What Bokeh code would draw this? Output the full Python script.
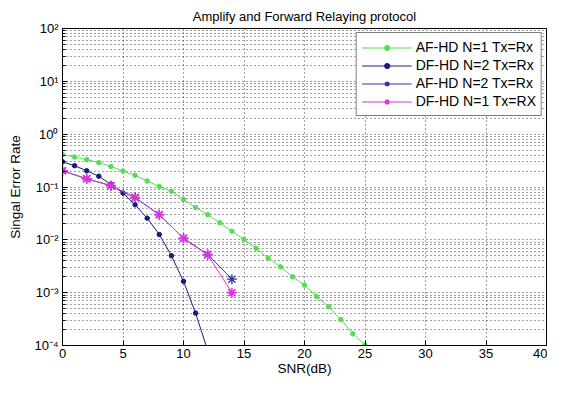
import numpy as np
from bokeh.plotting import figure
from bokeh.models import Range1d, FixedTicker, CustomJSTickFormatter, Legend
from bokeh.embed import file_html
from bokeh.resources import INLINE

# ---- data ----
snr_af1 = list(range(0, 26))
ser_af1 = [0.41, 0.37, 0.33, 0.29, 0.245, 0.20, 0.166, 0.13, 0.102, 0.083,
           0.058, 0.041, 0.030, 0.021, 0.0145, 0.0102, 0.0069, 0.0045, 0.0031,
           0.0020, 0.00139, 0.00085, 0.00054, 0.00031, 0.000166, 0.000102]

snr_df2 = list(range(0, 13))
ser_df2 = [0.30, 0.253, 0.203, 0.16, 0.112, 0.0766, 0.046, 0.0257, 0.0126,
           0.0050, 0.00164, 0.00041, 0.00008]

snr_af2 = [0, 2, 4, 6, 8, 10, 12, 14]
ser_af2 = [0.203, 0.143, 0.106, 0.063, 0.030, 0.0107, 0.0053, 0.0018]

snr_df1 = [0, 2, 4, 6, 8, 10, 12, 14]
ser_df1 = [0.203, 0.143, 0.106, 0.063, 0.030, 0.0107, 0.0052, 0.0010]

labels = ["AF-HD N=1 Tx=Rx", "DF-HD N=2 Tx=Rx", "AF-HD N=2 Tx=Rx", "DF-HD N=1 Tx=RX"]
x_ticks = [0, 5, 10, 15, 20, 25, 30, 35, 40]
y_ticks = [1e-4, 1e-3, 1e-2, 1e-1, 1e0, 1e1, 1e2]

FONT = "Liberation Sans"

p = figure(width=547, height=378, y_axis_type="log",
           x_range=Range1d(0, 40), y_range=Range1d(1e-4, 1e2),
           output_backend="svg", toolbar_location=None,
           title="Amplify and Forward Relaying protocol",
           min_border_left=62, min_border_right=1, min_border_top=28,
           min_border_bottom=30)

p.title.align = "center"
p.title.text_font = FONT
p.title.text_font_size = "13px"
p.title.text_font_style = "normal"
p.title.text_color = "black"
p.title.offset = 0
p.title.standoff = 9

p.outline_line_color = "black"
p.outline_line_width = 1
p.background_fill_color = "white"
p.border_fill_color = "white"

# axes
p.xaxis.ticker = FixedTicker(ticks=x_ticks)
p.yaxis.ticker = FixedTicker(ticks=y_ticks,
                             minor_ticks=[m * 10.0 ** e for e in range(-4, 2) for m in range(2, 10)])
p.yaxis.formatter = CustomJSTickFormatter(code="""
const sup = {'-':'\u207b','0':'\u2070','1':'\u00b9','2':'\u00b2','3':'\u00b3','4':'\u2074',
             '5':'\u2075','6':'\u2076','7':'\u2077','8':'\u2078','9':'\u2079'};
const e = Math.round(Math.log10(tick)).toString();
return '10' + e.split('').map(c => sup[c]).join('');
""")
for ax in (p.xaxis, p.yaxis):
    ax.axis_line_color = "black"
    ax.major_tick_in = 5
    ax.major_tick_out = 0
    ax.minor_tick_in = 3
    ax.minor_tick_out = 0
    ax.major_label_text_font = FONT
    ax.major_label_text_font_size = "13px"
    ax.major_label_text_color = "black"
    ax.axis_label_text_font = FONT
    ax.axis_label_text_font_size = "13.5px"
    ax.axis_label_text_font_style = "normal"
    ax.axis_label_text_color = "black"
p.xaxis.minor_tick_line_color = None
p.xaxis.major_label_standoff = 3
p.yaxis.major_label_standoff = 4
p.xaxis.axis_label = "SNR(dB)"
p.yaxis.axis_label = "Singal Error Rate"
p.xaxis.axis_label_standoff = 0
p.yaxis.axis_label_standoff = 8

# grids
for g in (p.xgrid, p.ygrid):
    g.grid_line_color = "black"
    g.grid_line_alpha = 0.75
    g.grid_line_dash = "1 3"
    g.grid_line_width = 1
p.ygrid.minor_grid_line_color = "black"
p.ygrid.minor_grid_line_alpha = 0.75
p.ygrid.minor_grid_line_dash = "1 3"

# series
green = "#55dd55"
navy = "#1a1a80"
blue = "#3030a8"
mag = "#dd33dd"

r1l = p.line(snr_af1, ser_af1, line_color=green, line_width=1)
r1m = p.scatter(snr_af1, ser_af1, marker="circle", size=4.5, fill_color=green, line_color=green)

r2l = p.line(snr_df2, ser_df2, line_color=navy, line_width=1)
r2m = p.scatter(snr_df2, ser_df2, marker="circle", size=4.5, fill_color=navy, line_color=navy)

r3l = p.line(snr_af2, ser_af2, line_color=blue, line_width=1)
r3m = p.scatter(snr_af2, ser_af2, marker="asterisk", size=10, line_color=blue, line_width=1.3)

r4l = p.line(snr_df1, ser_df1, line_color=mag, line_width=1)
r4m = p.scatter(snr_df1, ser_df1, marker="asterisk", size=10, line_color=mag, line_width=1.6)

legend = Legend(items=[(labels[0], [r1l, r1m]), (labels[1], [r2l, r2m]),
                       (labels[2], [r3l, r3m]), (labels[3], [r4l, r4m])],
                location="top_right")
legend.label_text_font = FONT
legend.label_text_font_size = "14px"
legend.label_text_color = "black"
legend.glyph_width = 50
legend.glyph_height = 13
legend.label_height = 18
legend.label_standoff = 4
legend.spacing = 0
legend.padding = 5
legend.margin = 4
legend.border_line_color = "black"
legend.border_line_width = 1
legend.background_fill_color = "white"
legend.background_fill_alpha = 1
p.add_layout(legend)

open("out.html", "w").write(file_html(p, INLINE))
